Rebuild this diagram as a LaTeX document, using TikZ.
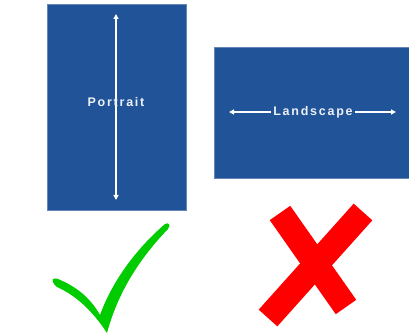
\documentclass[tikz,border=0pt]{standalone}
\usepackage{fontspec}
\newfontfamily\pgfont[LetterSpace=14]{Liberation Sans}
\usepackage{tikz}
\usetikzlibrary{arrows.meta,positioning,calc}
\definecolor{pageblue}{HTML}{215398}
\definecolor{okgreen}{HTML}{00CC00}
\definecolor{nored}{HTML}{FF0000}
\tikzset{
  pgPage/.style={draw=pageblue!70, fill=pageblue, inner sep=0pt},
  pgLabel/.style={text=white!92!pageblue, font=\pgfont\fontsize{12.5}{14}\selectfont\bfseries,
    inner sep=2pt},
  %% white arrows on the pages
  pgArrow/.style={-{Triangle[length=5pt,width=5pt]}, draw=white, line width=1.2pt},
  pgArrows/.style={{Triangle[length=5pt,width=5pt]}-{Triangle[length=5pt,width=5pt]},
    draw=white, line width=1.2pt},
  %% marks
  pgCross/.style={draw=nored, line width=25pt},
}

\begin{document}
\begin{tikzpicture}[x=1pt, y=-1pt]
\useasboundingbox[fill=white] (0,0) rectangle (409,336);

\node[pgPage, minimum width=139pt, minimum height=206pt] (pPortrait)  at (116.5,107) {};
\node[pgPage, minimum width=195pt, minimum height=131pt] (pLandscape) at (311.5,112.5) {};

\coordinate (aTop)    at (116,14);
\coordinate (aBottom) at (116,200);
\draw[pgArrows] (aTop) -- (aBottom);
\node[pgLabel] (tPortrait) at (116,102) {Portrait};

\node[pgLabel] (tLandscape) at (313,112) {Landscape};
\coordinate (aLeft)  at (229,112);
\coordinate (aRight) at (396,112);
\draw[pgArrow] (tLandscape.west) -- (aLeft);
\draw[pgArrow] (tLandscape.east) -- (aRight);

% tick
\fill[okgreen] (53,282) .. controls (51,278) and (56,278) .. (58,279)
  .. controls (75,286) and (90,297) .. (100,315)
  .. controls (112,282) and (135,250) .. (165,224)
  .. controls (169,222) and (171,225) .. (168,229)
  .. controls (140,258) and (118,292) .. (107,333)
  .. controls (92,310) and (75,295) .. (57,287)
  .. controls (55,286) and (54,284) .. (53,282) -- cycle;

% cross
\coordinate (xA) at (280,213);
\coordinate (xB) at (346,307);
\coordinate (xC) at (363,212);
\coordinate (xD) at (268,318);
\draw[pgCross] (xA) -- (xB);
\draw[pgCross] (xC) -- (xD);
\end{tikzpicture}
\end{document}
